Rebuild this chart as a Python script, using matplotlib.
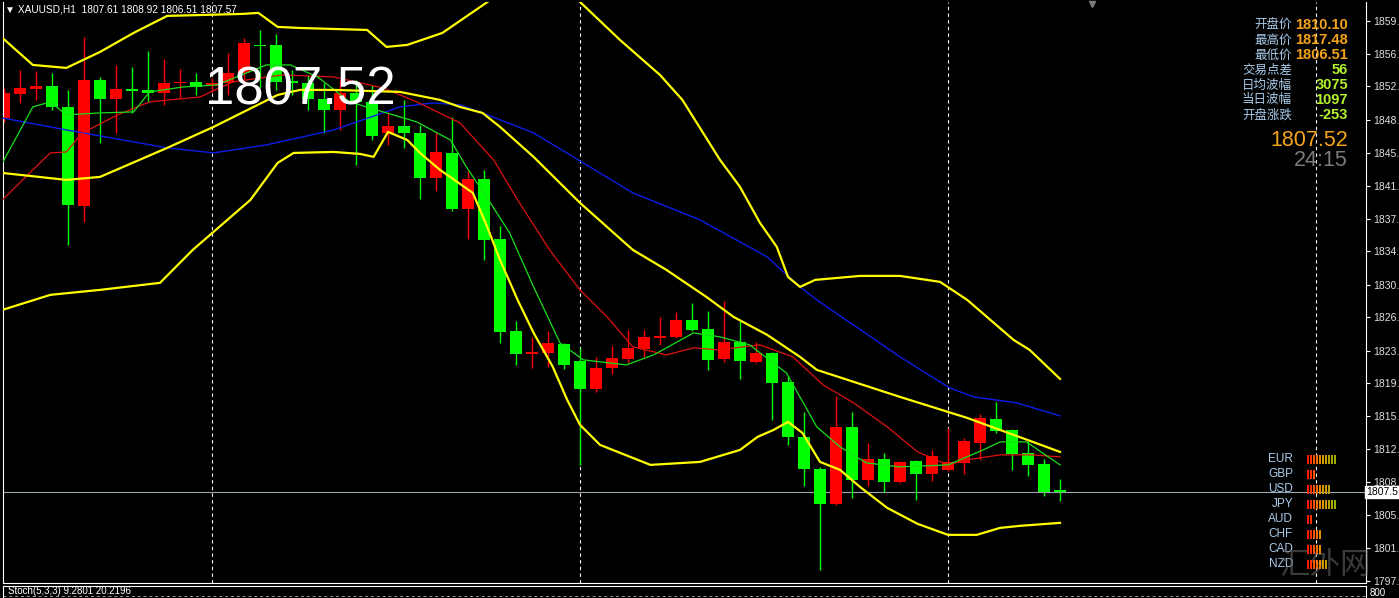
import numpy as np
import matplotlib.pyplot as plt
from matplotlib.patches import Rectangle

plt.rcParams['font.family'] = ['Liberation Sans', 'Noto Sans CJK SC', 'DejaVu Sans']

W, H = 1399, 598

# XAUUSD H1 candles (oldest -> newest)
opens = [1849.01, 1851.68, 1852.23, 1852.56, 1850.23, 1839.25, 1853.23, 1851.12, 1852.23, 1852.12,
         1851.79, 1852.90, 1853.01, 1852.56, 1852.90, 1854.00, 1857.11, 1857.11, 1853.12, 1852.90,
         1851.12, 1849.90, 1851.79, 1850.79, 1847.35, 1848.13, 1847.35, 1842.36, 1845.13, 1838.92,
         1842.25, 1835.59, 1825.39, 1822.84, 1822.95, 1823.95, 1822.07, 1818.96, 1821.29, 1822.29,
         1823.40, 1824.62, 1824.73, 1826.61, 1825.61, 1822.29, 1824.17, 1821.95, 1822.95, 1819.74,
         1813.64, 1810.09, 1806.21, 1814.75, 1808.87, 1811.20, 1808.65, 1810.98, 1809.53, 1809.98,
         1810.75, 1812.97, 1815.63, 1814.41, 1811.86, 1810.64, 1807.61]
highs = [1852.34, 1854.34, 1854.23, 1854.00, 1852.12, 1858.00, 1853.50, 1854.89, 1854.67, 1856.44,
         1855.56, 1854.45, 1854.00, 1853.45, 1856.22, 1857.89, 1858.77, 1858.33, 1854.34, 1853.78,
         1852.90, 1853.23, 1853.23, 1852.67, 1849.57, 1851.01, 1848.24, 1847.46, 1849.12, 1843.14,
         1843.25, 1837.04, 1826.50, 1824.73, 1825.39, 1824.10, 1823.51, 1822.51, 1823.73, 1825.50,
         1825.50, 1826.94, 1827.50, 1828.50, 1827.61, 1828.72, 1826.50, 1824.17, 1823.10, 1820.40,
         1816.41, 1810.30, 1818.18, 1816.41, 1812.97, 1811.86, 1810.98, 1811.10, 1812.19, 1814.63,
         1813.53, 1816.19, 1817.48, 1814.55, 1813.19, 1811.20, 1808.92]
lows = [1848.57, 1850.68, 1851.01, 1849.90, 1834.93, 1837.48, 1846.24, 1847.35, 1849.57, 1850.79,
        1850.46, 1851.23, 1851.56, 1851.90, 1851.56, 1852.90, 1852.34, 1852.12, 1851.56, 1849.90,
        1847.35, 1847.68, 1843.80, 1846.57, 1846.02, 1845.69, 1840.03, 1840.92, 1838.70, 1835.59,
        1833.27, 1824.06, 1821.62, 1821.29, 1821.40, 1821.18, 1810.53, 1818.63, 1820.62, 1821.84,
        1822.51, 1823.84, 1824.62, 1825.39, 1821.07, 1821.95, 1820.07, 1821.84, 1815.52, 1812.75,
        1808.20, 1798.89, 1806.10, 1806.87, 1808.20, 1807.54, 1808.54, 1806.65, 1808.76, 1809.90,
        1809.53, 1811.09, 1814.08, 1809.98, 1809.31, 1807.09, 1806.51]
closes = [1851.79, 1852.34, 1852.56, 1850.23, 1839.37, 1853.23, 1851.12, 1852.23, 1852.01, 1851.79,
          1852.90, 1853.01, 1852.45, 1852.90, 1854.00, 1857.33, 1857.00, 1853.01, 1852.90, 1851.12,
          1849.90, 1851.79, 1850.79, 1847.02, 1848.13, 1847.35, 1842.36, 1845.24, 1838.92, 1842.25,
          1835.48, 1825.28, 1822.84, 1823.06, 1824.06, 1821.62, 1818.96, 1821.29, 1822.40, 1823.51,
          1824.73, 1824.84, 1826.61, 1825.50, 1822.18, 1824.17, 1822.07, 1822.95, 1819.63, 1813.64,
          1810.09, 1806.21, 1814.75, 1808.87, 1811.20, 1808.65, 1810.86, 1809.53, 1811.53, 1810.86,
          1813.19, 1815.74, 1814.30, 1811.75, 1810.53, 1807.54, 1807.57]

# indicator lines: (bar index, price)
bb_up_x = [-0.1, 1.8, 3.9, 6.0, 8.1, 10.2, 14.9, 15.9, 17.1, 18.5, 22.7, 23.9, 25.2, 27.4, 30.4,
           32.9, 35.2, 36.0, 38.5, 41.0, 42.4, 44.75, 46.0, 47.25, 48.3, 49.0, 49.75, 50.7, 53.5,
           56.0, 58.5, 60.2, 63.1, 64.1, 66.0]
bb_up_y = [1857.89, 1854.89, 1854.56, 1856.33, 1858.44, 1860.33, 1860.55, 1860.66, 1859.11, 1858.99,
           1858.77, 1856.89, 1857.11, 1858.44, 1862.10, 1866.50, 1863.20, 1861.88, 1857.66, 1853.78,
           1851.01, 1844.36, 1841.36, 1837.37, 1834.71, 1831.38, 1830.27, 1831.05, 1831.49, 1831.49,
           1830.83, 1828.83, 1824.39, 1823.29, 1820.07]
bb_mid_x = [-0.1, 3.9, 6.0, 10.2, 13.1, 17.1, 18.5, 20.6, 24.75, 27.25, 28.5, 29.9, 31.0, 33.1,
            36.0, 39.3, 41.4, 43.9, 45.6, 47.7, 49.75, 50.8, 56.0, 60.2, 64.3, 66.0]
bb_mid_y = [1842.91, 1842.14, 1842.47, 1845.69, 1848.02, 1851.56, 1852.12, 1852.12, 1851.90, 1851.01,
            1850.23, 1849.57, 1848.02, 1844.69, 1839.59, 1834.38, 1832.16, 1829.16, 1826.94, 1824.95,
            1822.51, 1821.07, 1818.07, 1815.74, 1813.08, 1811.97]
bb_low_x = [-0.1, 2.9, 6.0, 9.75, 11.8, 15.4, 17.1, 18.1, 20.6, 22.25, 23.1, 24.0, 25.2, 26.0, 27.25,
            29.3, 30.2, 31.0, 32.1, 33.1, 34.3, 35.2, 36.0, 37.25, 40.4, 43.5, 46.0, 47.1, 48.1, 49.0,
            49.9, 51.0, 52.25, 53.5, 55.2, 57.1, 59.0, 60.8, 62.25, 63.5, 66.0]
bb_low_y = [1827.72, 1829.39, 1829.94, 1830.72, 1834.38, 1839.92, 1844.02, 1845.13, 1845.24, 1845.02,
            1844.69, 1847.46, 1846.57, 1845.13, 1843.25, 1840.70, 1836.93, 1833.27, 1828.83, 1825.17,
            1821.40, 1817.74, 1814.97, 1812.75, 1810.53, 1810.86, 1812.19, 1813.64, 1814.41, 1815.30,
            1814.08, 1810.86, 1809.98, 1808.09, 1805.76, 1803.99, 1802.77, 1802.77, 1803.54, 1803.77,
            1804.10]
ma_blue_x = [-0.1, 3.9, 10.2, 13.1, 16.4, 20.6, 24.75, 26.8, 28.5, 29.9, 33.1, 36.2, 39.3, 43.5,
             47.7, 49.75, 50.8, 56.0, 59.1, 60.6, 63.3, 66.0]
ma_blue_y = [1849.01, 1847.68, 1845.69, 1845.13, 1846.02, 1847.68, 1850.23, 1850.68, 1850.46, 1849.57,
             1847.35, 1844.02, 1840.70, 1837.70, 1833.60, 1830.27, 1828.83, 1822.51, 1819.07, 1818.07,
             1817.41, 1815.97]
ma_red_x = [-0.1, 1.8, 2.9, 3.9, 4.9, 7.1, 9.1, 12.25, 14.3, 17.4, 20.6, 23.7, 25.8, 28.5, 30.6,
            32.1, 34.1, 36.0, 37.7, 39.3, 41.4, 43.1, 44.6, 47.25, 49.3, 51.2, 53.1, 55.2, 57.1, 59.0,
            60.2, 62.25, 64.3, 66.0]
ma_red_y = [1839.92, 1843.25, 1845.13, 1845.24, 1847.35, 1849.35, 1850.79, 1851.34, 1853.01, 1853.78,
            1853.56, 1852.34, 1850.79, 1848.46, 1844.36, 1839.92, 1834.38, 1829.94, 1826.94, 1823.62,
            1822.73, 1823.51, 1823.29, 1823.84, 1822.51, 1819.40, 1817.41, 1814.75, 1811.97, 1810.53,
            1811.09, 1811.64, 1811.64, 1811.42]
ma_green_x = [-0.1, 1.8, 2.9, 3.9, 6.0, 8.1, 9.1, 11.2, 13.3, 16.4, 17.9, 19.6, 21.6, 23.7, 25.8,
              27.9, 28.9, 30.4, 31.6, 33.1, 34.75, 36.2, 38.9, 40.6, 43.1, 44.75, 46.6, 48.9, 50.8,
              52.25, 53.9, 56.0, 59.0, 61.2, 62.25, 63.9, 66.0]
ma_green_y = [1844.02, 1850.23, 1850.79, 1849.35, 1849.57, 1849.68, 1851.90, 1852.45, 1852.67, 1854.89,
              1854.89, 1853.56, 1850.79, 1849.68, 1848.57, 1846.57, 1843.58, 1839.59, 1836.26, 1830.27,
              1824.06, 1822.18, 1821.62, 1822.73, 1825.17, 1824.73, 1823.84, 1820.73, 1814.75, 1812.53,
              1810.75, 1810.31, 1810.53, 1812.19, 1813.08, 1813.08, 1810.53]

price_ticks = [1859.8, 1856.1, 1852.5, 1848.8, 1845.1, 1841.5, 1837.8, 1834.2, 1830.5, 1826.9,
               1823.2, 1819.6, 1815.9, 1812.3, 1808.6, 1805.0, 1801.3, 1797.7]
grid_bars = [13, 36, 59, 82]
last_price = 1807.52

info_labels = ['开盘价', '最高价', '最低价', '交易点差', '日均波幅', '当日波幅', '开盘涨跌']
info_values = ['1810.10', '1817.48', '1806.51', '56', '3075', '1097', '-253']
currencies = ['EUR', 'GBP', 'USD', 'JPY', 'AUD', 'CHF', 'CAD', 'NZD']
strength = [10, 3, 8, 10, 2, 5, 5, 7]

fig = plt.figure(figsize=(W / 100, H / 100), dpi=100, facecolor='black')
ax = fig.add_axes([3 / W, (H - 583) / H, (1366 - 3) / W, (583 - 2) / H], facecolor='black')
ax.set_xlim(-0.0625, 85.125)
ax.set_ylim(1797.43, 1861.87)

UP, DN = '#ff0000', '#00ff00'
for i in range(len(opens)):
    o, h, l, c = opens[i], highs[i], lows[i], closes[i]
    col = UP if c > o else DN
    ax.vlines(i, l, h, color=col, lw=1.0, zorder=2)
    body = max(abs(c - o), 0.13)
    ax.bar(i, body, bottom=min(o, c), width=0.69, color=col, lw=0, zorder=2)

ax.plot(ma_blue_x, ma_blue_y, color='#0a1ee6', lw=1.0, zorder=3)
ax.plot(ma_red_x, ma_red_y, color='#e01010', lw=0.9, zorder=3)
ax.plot(ma_green_x, ma_green_y, color='#18e018', lw=0.9, zorder=3)
for xs, ys in [(bb_up_x, bb_up_y), (bb_mid_x, bb_mid_y), (bb_low_x, bb_low_y)]:
    ax.plot(xs, ys, color='#ffff00', lw=1.6, zorder=4)

for g in grid_bars:
    ax.axvline(g, color='white', lw=0.8, ls=(0, (3, 3)), zorder=1)
ax.axhline(last_price, color='#9aa6b2', lw=0.8, zorder=1)

ax.yaxis.tick_right()
ax.set_yticks(price_ticks)
ax.set_yticklabels(['%.1f' % t for t in price_ticks])
ax.tick_params(axis='y', colors='white', labelcolor='#e0e0e0', labelsize=7.5, length=3, pad=2)
ax.tick_params(axis='x', bottom=False, labelbottom=False)
for side in ['left', 'right', 'bottom']:
    ax.spines[side].set_color('white')
ax.spines['top'].set_visible(False)

# current price tag on axis
ax.text(1.0, last_price, '1807.5', transform=ax.get_yaxis_transform(), ha='left', va='center',
        fontsize=7.5, color='black', zorder=6,
        bbox=dict(boxstyle='square,pad=0.12', fc='white', ec='white'))

ax.text(12.55, 1852.0, '1807.52', fontsize=38, color='white', ha='left', va='center', zorder=5)

fig.text(5 / W, 1 - 9 / H, '▼ XAUUSD,H1  1807.61 1808.92 1806.51 1807.57', fontsize=7.3,
         color='white', va='center', family=['Liberation Sans', 'DejaVu Sans'])
ax.plot([68.0], [1861.7], marker='v', color='#7a7a7a', ms=5, zorder=5, clip_on=False)

# info panel
for k, (lab, val) in enumerate(zip(info_labels, info_values)):
    y = 1 - (25 + 15 * k) / H
    fig.text(1292 / W, y, lab, ha='right', va='center', fontsize=9, color='#a9cbea',
             family=['Noto Sans CJK SC', 'DejaVu Sans'])
    fig.text(1348 / W, y, val, ha='right', va='center', fontsize=10.5, fontweight='bold',
             color='#f5a31a' if k < 3 else '#b4f22c')
fig.text(1348 / W, 1 - 141 / H, '1807.52', ha='right', va='center', fontsize=15.5, color='#f5a31a')
fig.text(1348 / W, 1 - 161 / H, '24:15', ha='right', va='center', fontsize=15.5, color='#7c7c7c')

# currency strength panel
bar_cols = ['#ff1a00', '#ff3300', '#ff5200', '#f56f00', '#e68a00', '#d99a00', '#cc9900',
            '#b8a000', '#a8a800', '#98b000']
for k, (cur, n) in enumerate(zip(currencies, strength)):
    yc = 459 + 15 * k
    fig.text(1293 / W, 1 - yc / H, cur, ha='right', va='center', fontsize=8.5, color='#a9cbea')
    for j in range(n):
        fig.patches.append(Rectangle(((1307.25 + 3 * j) / W, (H - yc - 4.75) / H), 2 / W, 9 / H,
                                     transform=fig.transFigure, color=bar_cols[j], zorder=5,
                                     antialiased=False, lw=0))

fig.text(1325 / W, 1 - 566 / H, '汇外网', ha='center', va='center', fontsize=22, color='#6a6a6a',
         alpha=0.55, family=['Noto Sans CJK SC', 'DejaVu Sans'])

# stochastic sub-window strip
ax2 = fig.add_axes([3 / W, 0, (1366 - 3) / W, (598 - 586) / H], facecolor='black')
ax2.set_xlim(0, 1)
ax2.set_ylim(0, 1)
ax2.set_xticks([])
ax2.set_yticks([])
for side in ['left', 'right', 'top']:
    ax2.spines[side].set_color('white')
ax2.spines['bottom'].set_visible(False)
ax2.axhline(0.15, color='#9a9a9a', lw=0.7, ls=(0, (3, 3)))
ax2.text(0.004, 0.2, 'Stoch(5,3,3) 9.2801 20.2196', fontsize=7, color='white', va='bottom')
fig.text(1370 / W, 1 - 593 / H, '800', fontsize=7, color='white', va='center')

fig.savefig('out.png', dpi=100, facecolor='black')
